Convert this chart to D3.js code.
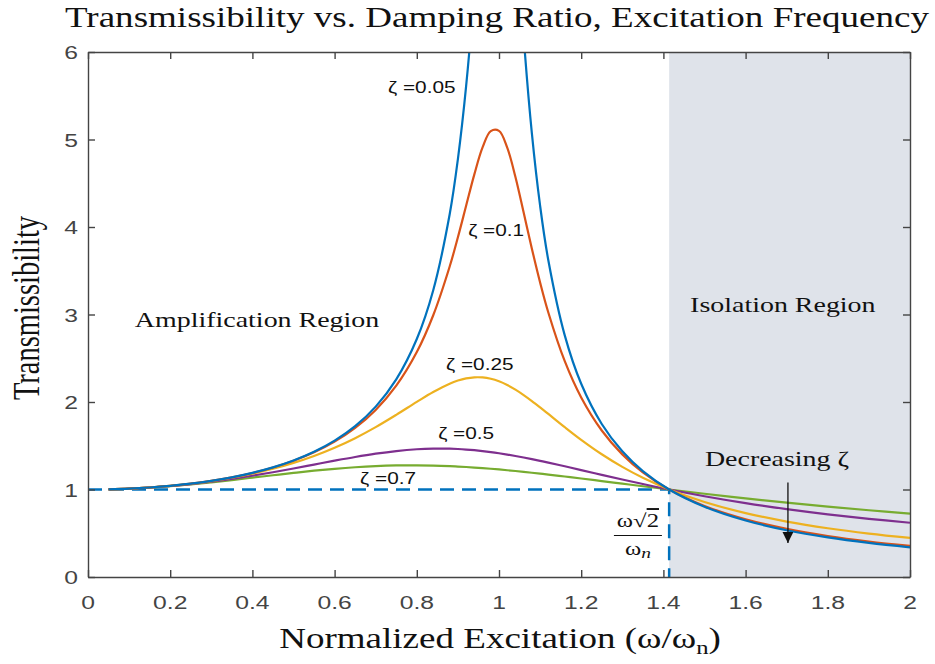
<!DOCTYPE html>
<html>
<head>
<meta charset="utf-8">
<script src="https://cdn.jsdelivr.net/npm/d3@7"></script>
<style>
  body { margin: 0; background: #fff; }
</style>
</head>
<body>
<svg id="plot"></svg>
<script>
// frequency ratio w/wn
ratio = [0.05, 0.1, 0.15, 0.2, 0.25, 0.3, 0.35, 0.4, 0.45, 0.5, 0.55, 0.6, 0.65, 0.7, 0.75, 0.8,
         0.84, 0.88, 0.9, 0.92, 0.94, 0.96, 0.98, 1.0, 1.02, 1.04, 1.06, 1.08, 1.1, 1.12, 1.16,
         1.2, 1.25, 1.3, 1.35, 1.414, 1.5, 1.6, 1.7, 1.8, 1.9, 2.0];

// transmissibility for each damping ratio
t005 = [1.0025, 1.0101, 1.0230, 1.0417, 1.0666, 1.0988, 1.1394, 1.1901, 1.2532, 1.3320, 1.4314, 1.5585,
        1.7244, 1.9473, 2.2592, 2.7203, 3.2779, 4.1454, 4.7757, 5.6091, 6.713, 8.105, 9.506, 10.05,
        9.162, 7.606, 6.176, 5.070, 4.2437, 3.6201, 2.7615, 2.2084, 1.7490, 1.4362, 1.2106, 1.0,
        0.8032, 0.6458, 0.5345, 0.4521, 0.3890, 0.3392];
t010 = [1.0025, 1.0101, 1.0230, 1.0416, 1.0665, 1.0985, 1.1388, 1.1889, 1.2510, 1.3282, 1.4247, 1.5468,
        1.7035, 1.9093, 2.1863, 2.5707, 2.9915, 3.5485, 3.8822, 4.2423, 4.6016, 4.9099, 5.0962, 5.0990,
        4.9076, 4.5714, 4.1655, 3.7521, 3.3666, 3.0233, 2.4662, 2.0519, 1.6745, 1.4013, 1.1965, 1.0,
        0.8122, 0.6593, 0.5500, 0.4685, 0.4056, 0.3559];
t025 = [1.0025, 1.0101, 1.0229, 1.0412, 1.0655, 1.0964, 1.1346, 1.1810, 1.2370, 1.3038, 1.3833, 1.4771,
        1.5868, 1.7129, 1.8535, 2.0014, 2.1147, 2.2095, 2.2450, 2.2697, 2.2820, 2.2807, 2.2653, 2.2361,
        2.1942, 2.1413, 2.0796, 2.0113, 1.9385, 1.8634, 1.7122, 1.5674, 1.4024, 1.2582, 1.1339, 1.0,
        0.8575, 0.7305, 0.6333, 0.5573, 0.4966, 0.4472];
t050 = [1.0025, 1.0100, 1.0225, 1.0400, 1.0624, 1.0896, 1.1215, 1.1576, 1.1975, 1.2403, 1.2848, 1.3293,
        1.3717, 1.4094, 1.4396, 1.4598, 1.4672, 1.4663, 1.4626, 1.4568, 1.4490, 1.4392, 1.4276, 1.4142,
        1.3993, 1.3830, 1.3655, 1.3469, 1.3275, 1.3073, 1.2653, 1.2221, 1.1678, 1.1144, 1.0628, 1.0,
        0.9233, 0.8443, 0.7759, 0.7166, 0.6651, 0.6202];
t070 = [1.0025, 1.0099, 1.0220, 1.0385, 1.0587, 1.0822, 1.1080, 1.1353, 1.1629, 1.1898, 1.2148, 1.2367,
        1.2545, 1.2674, 1.2747, 1.2763, 1.2734, 1.2669, 1.2624, 1.2571, 1.2511, 1.2443, 1.2369, 1.2289,
        1.2203, 1.2112, 1.2017, 1.1917, 1.1814, 1.1707, 1.1487, 1.1258, 1.0965, 1.0669, 1.0374, 1.0,
        0.9518, 0.8987, 0.8494, 0.8041, 0.7626, 0.7245];

xTicks = [0, 0.2, 0.4, 0.6, 0.8, 1, 1.2, 1.4, 1.6, 1.8, 2];
yTicks = [0, 1, 2, 3, 4, 5, 6];
isoRatio = 1.414;   // w = sqrt(2) wn

svgWidth = 935;
svgHeight = 664;
margin = {top: 52, right: 25, bottom: 87, left: 88};
stretch = 1.3;   // the picture is wider than it is tall, text included

serif = "'Liberation Serif', 'Times New Roman', serif";
sans = "'Liberation Sans', Arial, sans-serif";

series = [
    {name: "ζ =0.05", values: t005, color: "#0072BD"},
    {name: "ζ =0.1", values: t010, color: "#D95319"},
    {name: "ζ =0.25", values: t025, color: "#EDB120"},
    {name: "ζ =0.5", values: t050, color: "#7E2F8E"},
    {name: "ζ =0.7", values: t070, color: "#77AC30"}
];

// where each curve label sits, in data units
curveLabels = [
    {text: "ζ =0.05", at: [0.73, 5.53]},
    {text: "ζ =0.1", at: [0.925, 3.90]},
    {text: "ζ =0.25", at: [0.871, 2.37]},
    {text: "ζ =0.5", at: [0.852, 1.58]},
    {text: "ζ =0.7", at: [0.662, 1.06]}
];

const svg = d3.select("#plot")
    .attr("width", svgWidth)
    .attr("height", svgHeight)
    .attr("viewBox", [0, 0, svgWidth, svgHeight]);

x = d3.scaleLinear()
    .domain([0, 2])
    .range([margin.left, svgWidth - margin.right]);

y = d3.scaleLinear()
    .domain([0, 6])
    .range([svgHeight - margin.bottom, margin.top]);

function label(g, txt, px, py, size, family, anchor, rotate) {
    let tf = `translate(${px},${py}) scale(${stretch},1)`;
    if (rotate) tf += ` rotate(${rotate})`;
    return g.append("text")
        .attr("transform", tf)
        .attr("font-family", family)
        .attr("font-size", size)
        .attr("text-anchor", anchor || "start")
        .attr("fill", "#111")
        .text(txt);
}

svg.append("clipPath")
    .attr("id", "clip")
    .append("rect")
    .attr("x", x(0))
    .attr("y", y(6))
    .attr("width", x(2) - x(0))
    .attr("height", y(0) - y(6));

// isolation region shading
svg.append("rect")
    .attr("x", x(isoRatio))
    .attr("y", y(6))
    .attr("width", x(2) - x(isoRatio))
    .attr("height", y(0) - y(6))
    .attr("fill", "#dfe3ea");

// reference dashes at T = 1 and w/wn = sqrt(2)
svg.append("path")
    .attr("d", d3.line()([[x(0), y(1)], [x(isoRatio), y(1)], [x(isoRatio), y(0)]]))
    .attr("fill", "none")
    .attr("stroke", "#0072BD")
    .attr("stroke-width", 2.5)
    .attr("stroke-dasharray", "14,8");

line = d3.line()
    .x((d, i) => x(ratio[i]))
    .y(d => y(d))
    .curve(d3.curveCatmullRom.alpha(0.5));

svg.append("g")
    .attr("clip-path", "url(#clip)")
    .selectAll("path")
    .data(series.slice().reverse())
    .join("path")
    .attr("fill", "none")
    .attr("stroke", d => d.color)
    .attr("stroke-width", 2.2)
    .attr("d", d => line(d.values));

// box with inward ticks on all four sides
const axes = svg.append("g");
axes.append("g")
    .attr("transform", `translate(0,${y(0)})`)
    .call(d3.axisBottom(x).tickValues(xTicks).tickSize(-7).tickSizeOuter(0).tickFormat(""));
axes.append("g")
    .attr("transform", `translate(0,${y(6)})`)
    .call(d3.axisTop(x).tickValues(xTicks).tickSize(-7).tickSizeOuter(0).tickFormat(""));
axes.append("g")
    .attr("transform", `translate(${x(0)},0)`)
    .call(d3.axisLeft(y).tickValues(yTicks).tickSize(-7).tickSizeOuter(0).tickFormat(""));
axes.append("g")
    .attr("transform", `translate(${x(2)},0)`)
    .call(d3.axisRight(y).tickValues(yTicks).tickSize(-7).tickSizeOuter(0).tickFormat(""));
axes.selectAll("path, line")
    .attr("stroke", "#444")
    .attr("stroke-width", 1.4);

const txt = svg.append("g");

xTicks.forEach(v => {
    label(txt, d3.format("~g")(v), x(v), y(0) + 32, 19, sans, "middle").attr("fill", "#444");
});
yTicks.forEach(v => {
    label(txt, v, x(0) - 10, y(v) + 7, 19, sans, "end").attr("fill", "#444");
});

label(txt, "Transmissibility vs. Damping Ratio, Excitation Frequency", 497, 27, 28.5, serif, "middle");

const xl = label(txt, "", 500, 648, 28.5, serif, "middle");
xl.append("tspan").text("Normalized Excitation (ω/ω");
xl.append("tspan").text("n").attr("font-size", 19).attr("dy", 6);
xl.append("tspan").text(")").attr("dy", -6);

label(txt, "Transmissibility", 39, 308, 28.5, serif, "middle", -90);

curveLabels.forEach(d => {
    label(txt, d.text, x(d.at[0]), y(d.at[1]), 16, sans, "start");
});

label(txt, "Amplification Region", x(0.114), y(2.86), 21.5, serif, "start");
label(txt, "Isolation Region", x(1.465), y(3.03), 21.5, serif, "start");
label(txt, "Decreasing ζ", x(1.501), y(1.27), 21.5, serif, "start");

// arrow pointing toward lower damping
svg.append("defs").append("marker")
    .attr("id", "head")
    .attr("viewBox", "0 0 10 10")
    .attr("refX", 10).attr("refY", 5)
    .attr("markerWidth", 11).attr("markerHeight", 11)
    .attr("markerUnits", "userSpaceOnUse")
    .attr("orient", "auto")
    .append("path")
    .attr("d", "M0,0 L10,5 L0,10 Z")
    .attr("fill", "#111");
svg.append("line")
    .attr("x1", x(1.703)).attr("y1", y(1.08))
    .attr("x2", x(1.703)).attr("y2", y(0.39))
    .attr("stroke", "#111")
    .attr("stroke-width", 1.3)
    .attr("marker-end", "url(#head)");

// w*sqrt(2)/wn note at the crossover
const fx = x(1.338);
const num = label(txt, "", fx, y(0.571), 19, serif, "middle");
num.append("tspan").text("ω√");
num.append("tspan").text("2").attr("text-decoration", "overline");
svg.append("line")
    .attr("x1", fx - 24).attr("x2", fx + 24)
    .attr("y1", y(0.474)).attr("y2", y(0.474))
    .attr("stroke", "#111")
    .attr("stroke-width", 1.1);
const den = label(txt, "", fx, y(0.25), 19, serif, "middle");
den.append("tspan").text("ω");
den.append("tspan").text("n").attr("font-style", "italic").attr("font-size", 15).attr("dy", 3);
</script>
</body>
</html>
